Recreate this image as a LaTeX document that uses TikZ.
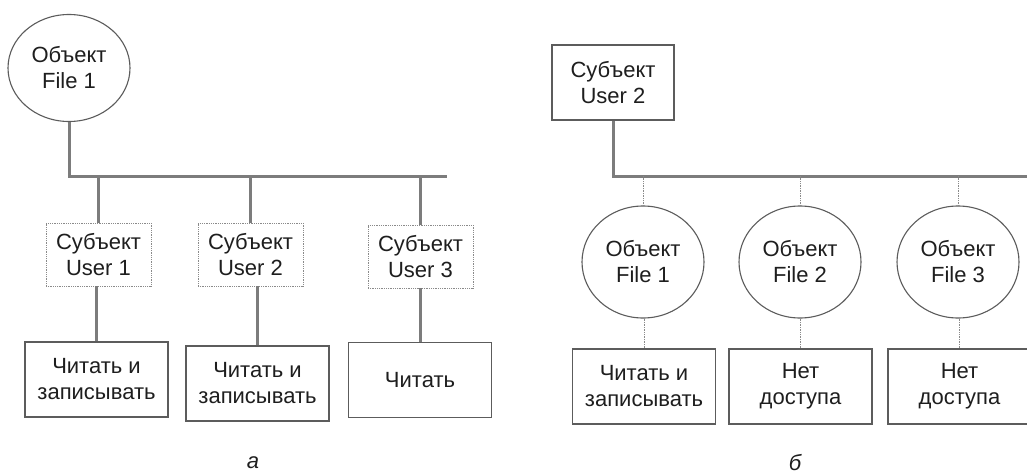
\documentclass[tikz,border=0pt]{standalone}
\usepackage{fontspec}
\setmainfont{Liberation Sans}
\usetikzlibrary{shapes.geometric}

\definecolor{LineGray}{HTML}{7C7C7C}
\definecolor{EdgeGray}{HTML}{5C5C5C}
\definecolor{DotGray}{HTML}{8A8A8A}
\definecolor{InkGray}{HTML}{1E1E1E}

\def\BusY{176}
\def\BoxW{143}
\def\BoxH{75}

\tikzset{
    busline/.style={line width=3pt, draw=LineGray},
    thinlink/.style={line width=0.7pt, draw=DotGray, densely dotted},
    objnode/.style={ellipse, draw=EdgeGray, line width=1.1pt, minimum width=122pt},
    userbox/.style={rectangle, draw=DotGray, line width=0.8pt, densely dotted,
        minimum width=105pt, minimum height=63pt},
    usersolid/.style={rectangle, draw=EdgeGray, line width=1.3pt,
        minimum width=122pt, minimum height=75pt},
    rightbox/.style={rectangle, draw=EdgeGray, line width=1.3pt,
        minimum width=\BoxW pt, minimum height=\BoxH pt}
}

\begin{document}
\begin{tikzpicture}[x=1pt,y=-1pt,
    every node/.style={font=\fontsize{22}{26}\selectfont, text=InkGray,
        align=center, inner sep=0pt}]

% Page background
\useasboundingbox (0,0) rectangle (1027,476);
\fill[white] (0,0) rectangle (1027,476);

% =====================================================
% (a) ONE OBJECT, SEVERAL SUBJECTS
% =====================================================
\node[objnode, minimum height=107pt] (objA) at (69,68) {Объект\\File 1};

\coordinate (busAend) at (447,\BusY);
\draw[busline] (objA.south) |- (busAend);

% Subjects and their rights
\foreach \n/\ux/\uy/\rx/\ry/\txt in {
    1/98.5/254.5/96.5/379.5/{Читать и\\записывать},
    2/250.5/254.5/257.5/383.5/{Читать и\\записывать},
    3/420.5/256.5/420/380/{Читать}} {
    \node[userbox] (userA\n) at (\ux,\uy) {Субъект\\User \n};
    \node[rightbox] (rightA\n) at (\rx,\ry) {\txt};

    \draw[busline] (userA\n.north |- busAend) -- (userA\n.north);
    \draw[busline] (rightA\n.north |- userA\n.south) -- (rightA\n.north);
}

\node[font=\itshape\fontsize{22}{26}\selectfont] (capA) at (253,463) {а};

% =====================================================
% (b) ONE SUBJECT, SEVERAL OBJECTS
% =====================================================
\node[usersolid] (userB) at (613,82.5) {Субъект\\User 2};

\coordinate (busBend) at (1030,\BusY);
\draw[busline] (userB.south) |- (busBend);

% Objects and rights on them
\foreach \n/\ox/\rx/\txt in {
    1/643/644/{Читать и\\записывать},
    2/800/800.5/{Нет\\доступа},
    3/958/959.5/{Нет\\доступа}} {
    \node[objnode, minimum height=112pt] (objB\n) at (\ox,262) {Объект\\File \n};
    \node[rightbox] (rightB\n) at (\rx,386.5) {\txt};

    \draw[thinlink] (objB\n.north |- busBend) -- (objB\n.north);
    \draw[thinlink] (rightB\n.north |- objB\n.south) -- (rightB\n.north);
}

\node[font=\itshape\fontsize{22}{26}\selectfont] (capB) at (795,463) {б};

\end{tikzpicture}
\end{document}
